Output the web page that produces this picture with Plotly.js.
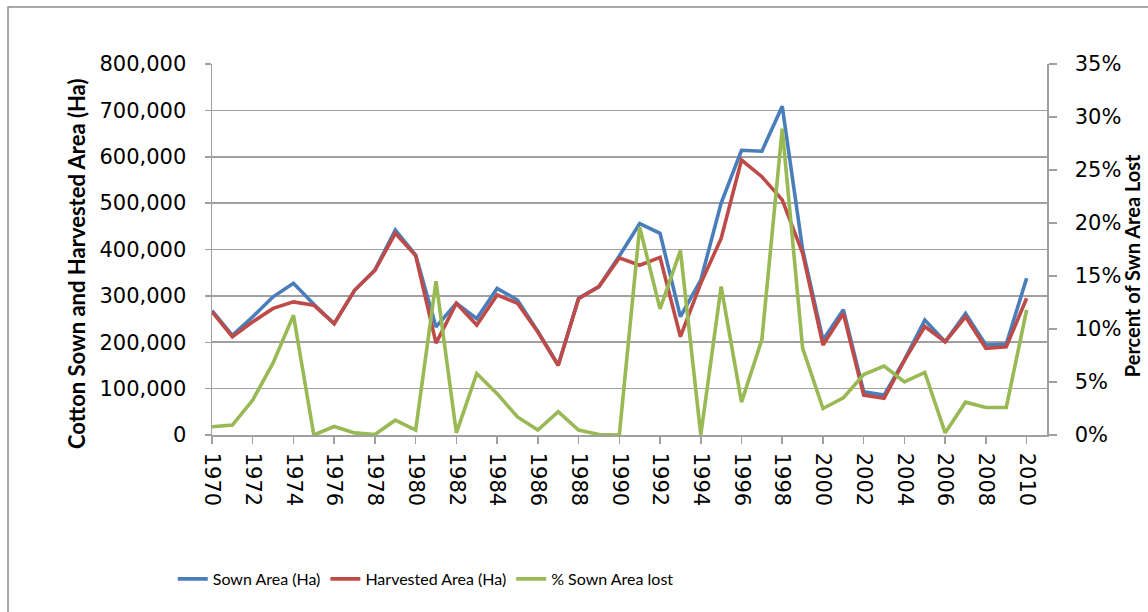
<!DOCTYPE html>
<html>
<head>
<meta charset="utf-8">
<script src="https://cdn.plot.ly/plotly-3.0.1.min.js"></script>
<style>html,body{margin:0;padding:0;background:#fff;}#chart{width:1148px;height:612px;}</style>
</head>
<body>
<div id="chart"></div>
<script>
const years = [1970,1971,1972,1973,1974,1975,1976,1977,1978,1979,1980,1981,1982,1983,1984,1985,1986,1987,1988,1989,1990,1991,1992,1993,1994,1995,1996,1997,1998,1999,2000,2001,2002,2003,2004,2005,2006,2007,2008,2009,2010];
const sownArea = [268000,215000,255000,298000,327000,282000,240000,312000,356000,442000,388000,233000,284000,251000,316000,291000,223000,151000,295000,320000,386000,456000,435000,255000,334000,500000,614000,612000,709000,400000,205000,270000,93000,86000,162000,248000,201000,262000,194000,196000,338000];
const harvestedArea = [266000,212000,244000,273000,287000,280000,240000,312000,355000,435000,387000,198000,284000,237000,302000,284000,222000,150000,294000,320000,382000,366000,383000,212000,327000,424000,593000,557000,507000,392000,194000,262000,86000,79000,161000,234000,201000,255000,187000,190000,295000];
const pctLost = [0.0078,0.0094,0.033,0.068,0.113,0.000,0.008,0.002,0.0005,0.014,0.0047,0.145,0.002,0.058,0.039,0.017,0.0047,0.022,0.0047,0.0005,0.000,0.196,0.119,0.174,0.000,0.140,0.031,0.090,0.289,0.082,0.025,0.035,0.057,0.065,0.050,0.059,0.002,0.031,0.026,0.026,0.118];

const seriesNames = ['Sown Area (Ha)','Harvested Area (Ha)','% Sown Area lost'];
const leftTitle = 'Cotton Sown and Harvested Area (Ha)';
const rightTitle = 'Percent of Swn Area Lost';

const gridC = '#a0a0a0';
const tickFont = {family:'DejaVu Sans', size:21, color:'#000'};

const traces = [
  {x:years, y:sownArea, name:seriesNames[0], type:'scatter', mode:'lines', line:{color:'#4a7ebb', width:3.6}, yaxis:'y'},
  {x:years, y:harvestedArea, name:seriesNames[1], type:'scatter', mode:'lines', line:{color:'#be4b48', width:3.6}, yaxis:'y'},
  {x:years, y:pctLost, name:seriesNames[2], type:'scatter', mode:'lines', line:{color:'#98b954', width:3.6}, yaxis:'y2'}
];

const layout = {
  width:1148, height:612,
  margin:{l:212, r:101, t:64, b:177},
  paper_bgcolor:'#fff', plot_bgcolor:'#fff',
  showlegend:true,
  legend:{orientation:'h', x:-0.047, xanchor:'left', y:-0.388, yanchor:'middle',
          font:{family:'Lato', size:16, color:'#000'}, traceorder:'normal', itemwidth:30},
  xaxis:{range:[1970,2011], tick0:1970, dtick:2, tickangle:90, showgrid:false, zeroline:false,
         showline:true, linecolor:gridC, linewidth:1.5, ticks:'outside', ticklen:7, tickcolor:gridC, tickwidth:1.5,
         tickfont:tickFont, ticklabelstandoff:5},
  yaxis:{range:[0,800000], dtick:100000, tickformat:',', showgrid:true, gridcolor:gridC, gridwidth:1.6, zeroline:false,
         showline:true, linecolor:gridC, linewidth:1.5, ticks:'outside', ticklen:6, tickcolor:gridC, tickwidth:1.5,
         tickfont:tickFont, ticklabelstandoff:14},
  yaxis2:{range:[0,0.35], dtick:0.05, tickformat:'.0%', overlaying:'y', side:'right', showgrid:false, zeroline:false,
          showline:true, linecolor:gridC, linewidth:1.5, ticks:'outside', ticklen:8, tickcolor:gridC, tickwidth:1.5,
          tickfont:tickFont, ticklabelstandoff:14},
  annotations:[
    {text:'<b>'+leftTitle+'</b>', xref:'paper', yref:'paper', x:-0.1617, y:0.461, textangle:-90, showarrow:false,
     font:{family:'Lato', size:22, color:'#000'}, xanchor:'center', yanchor:'middle'},
    {text:'<b>'+rightTitle+'</b>', xref:'paper', yref:'paper', x:1.1018, y:0.455, textangle:-90, showarrow:false,
     font:{family:'Lato', size:20, color:'#000'}, xanchor:'center', yanchor:'middle'}
  ],
  shapes:[
    {type:'rect', xref:'paper', yref:'paper', x0:-0.2443, x1:1.2, y0:-0.55, y1:1.1536,
     line:{color:'#8c8c8c', width:1.5}, fillcolor:'rgba(0,0,0,0)', layer:'below'}
  ]
};

Plotly.newPlot('chart', traces, layout, {staticPlot:true, displayModeBar:false});
</script>
</body>
</html>
